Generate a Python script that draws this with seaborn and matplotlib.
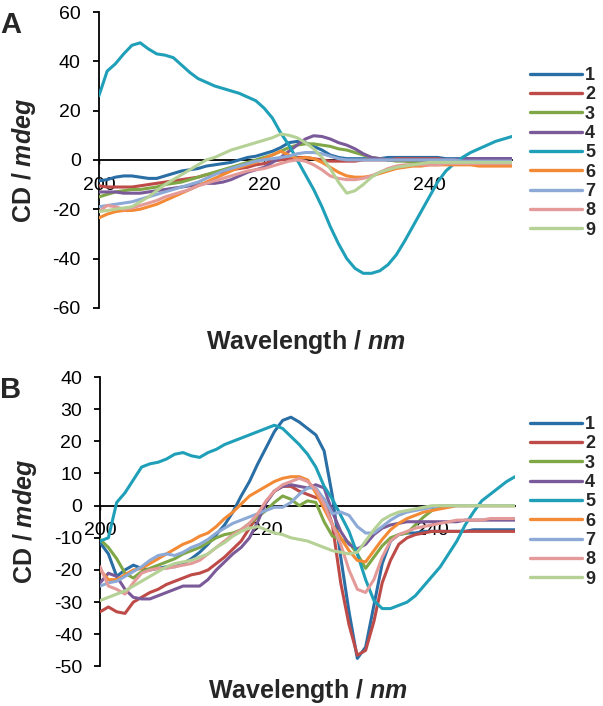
import matplotlib
matplotlib.use("Agg")
import matplotlib.pyplot as plt
import seaborn as sns
import pandas as pd

wavelength = list(range(200, 251))
samples = ["1", "2", "3", "4", "5", "6", "7", "8", "9"]
colors = ["#2A6EA6", "#BE4B48", "#7FA745", "#7A5A98", "#1FA0B8",
          "#F38A35", "#8DAAD6", "#E39A98", "#B5D195"]

# panel A
a1 = [-8.5, -8, -7, -6.5, -6.5, -7, -7.5, -7.5, -6.5, -5.5,
      -4.5, -4, -3.5, -2.5, -2, -1.5, -1, 0, 1, 1.5,
      2.5, 3.5, 5, 7, 7.5, 7, 5.5, 4, 2, 1,
      0.5, 0.5, 0.5, 0.5, 0.5, 1, 1, 1, 1, 1,
      1, 1, 0.5, 0.5, 0.5, 0.5, 0.5, 0.5, 0.5, 0.5, 0.5]
a2 = [-10.5, -11, -11, -11, -11, -10.5, -10, -9.5, -9, -8.5,
      -8, -7.5, -7, -6, -5.5, -5, -4, -3.5, -3, -2,
      -1.5, -0.5, 0, 0.5, 1, 1, 0.5, 0, -0.5, -0.5,
      -0.5, -0.5, 0, 0, 0, 0, 0.5, 0.5, 0.5, 0.5,
      0.5, 0.5, 0, 0, 0, -0.5, -0.5, -0.5, -0.5, -0.5, -0.5]
a3 = [-15, -14, -13, -12.5, -12, -12, -11.5, -11, -10, -9.5,
      -9, -8, -7, -6, -5, -4, -3, -2, -1, 0,
      1, 2, 3.5, 5, 6, 6.5, 6.5, 6, 5.5, 4.5,
      4, 3, 2, 1, 0.5, 0, -0.5, -0.5, -1, -1,
      -1, -1, -1, -1, -1, -1, -1.5, -1.5, -1.5, -1.5, -1.5]
a4 = [-13, -13, -13, -13.5, -13.5, -13.5, -13, -12.5, -12, -11.5,
      -11, -10.5, -10, -9.5, -9.5, -9, -8, -6.5, -5, -4,
      -3, -1, 1, 3.5, 6, 8.5, 9.8, 9.5, 8.5, 7,
      6, 4.5, 2.5, 1, 0.5, 0, 0, 0, 0, 0,
      0, 0, 0, 0, 0.5, 0.5, 0.5, 0.5, 0.5, 0.5, 0.5]
a5 = [26, 36, 39, 43, 46.5, 47.5, 45, 43, 42.5, 41.5,
      38.5, 35.5, 33, 31.5, 30, 29, 28, 27, 25.5, 24,
      21, 17, 11, 6, 0, -6, -12, -19, -27, -34,
      -40, -44, -46, -46, -45, -42.5, -38.5, -33, -27, -21,
      -15, -9, -4.5, -1.5, 1, 3, 4.5, 6, 7.5, 8.5, 9.5]
a6 = [-23.5, -22, -21, -20.5, -20.5, -20, -19, -18, -16.5, -15,
      -13.5, -12, -10.5, -9, -7.5, -6, -4.5, -3, -2, -1,
      0.5, 2, 3.5, 2, 0.5, 1, 0.5, -1, -3, -5,
      -6.5, -7, -7, -6.5, -5.5, -4.5, -3.5, -3, -2.5, -2.5,
      -2, -2, -2, -2, -2, -2, -2.5, -2.5, -2.5, -2.5, -2.5]
a7 = [-19, -18.5, -18, -17.5, -17, -16, -15, -14, -13, -12,
      -11, -10, -9, -7.5, -6, -4.5, -3.5, -2.5, -1.5, -0.5,
      0, 0.5, 1, 1.5, 2.5, 3, 3, 2.5, 1.5, 0.5,
      0, 0, 0, 0, 0, 0, 0, 0, 0, 0,
      0, 0, 0, 0, -0.5, -0.5, -0.5, -0.5, -0.5, -0.5, -0.5]
a8 = [-21, -18.5, -19, -20, -19.5, -18.5, -17.5, -16.5, -15, -14,
      -13, -12, -10.5, -9.5, -8.5, -7.5, -6.5, -5.5, -4.5, -4,
      -3.5, -2.5, -1.5, -0.5, 0, -0.5, -2, -4, -6.5, -7.5,
      -8, -8, -7.5, -6.5, -5, -3.5, -2.5, -2, -2, -2,
      -2, -2, -1.5, -1.5, -1.5, -1.5, -1.5, -1.5, -1.5, -1.5, -1.5]
a9 = [-21, -20.5, -20, -19.5, -19, -17, -15, -12.5, -10, -8,
      -6, -4, -2, 0, 1, 2.5, 4, 5, 6, 7,
      8, 9, 10.5, 10, 9, 7, 4.5, 1, -3.5, -9,
      -13.5, -12.5, -10, -7, -5, -4, -3, -2.5, -2, -1.5,
      -1, -1, -1, -1, -1, -1, -1, -1, -1, -1, -1]

# panel B
b1 = [-11.5, -15, -22, -20, -18.5, -19.5, -20, -19.5, -19, -19,
      -18, -16.5, -14.5, -12, -9, -6, -2, 3, 7.5, 13,
      18, 23, 26.5, 27.5, 26, 24, 22, 17, 3, -16,
      -33, -47.5, -44, -31, -18, -11, -9, -8.5, -8.5, -8,
      -8, -8, -8, -8, -8, -7.5, -7.5, -7.5, -7.5, -7.5, -7.5]
b2 = [-33, -31.5, -33, -33.5, -30, -28.5, -27, -26, -24.5, -23.5,
      -22.5, -21.5, -21, -20, -18, -16, -13.5, -11, -7, -3,
      1, 4.5, 6, 6, 4.5, 3.5, 2.5, 2, -6, -24,
      -37, -46.5, -45, -36, -24, -17, -12, -10, -9, -8.5,
      -8, -8, -8, -8, -8, -8, -8, -8, -8, -8, -8]
b3 = [-10.5, -13, -16.5, -21, -22.5, -20.5, -19.5, -18.5, -17.5, -16.5,
      -15, -14, -13, -11.5, -10, -9, -8.5, -7.5, -5.5, -3.5,
      -1.5, 1, 3, 2, 0, 1.5, 1, -5, -9.5, -10.5,
      -11.5, -15, -19.5, -16, -12.5, -10, -9, -8.5, -6, -3.5,
      -1.5, -0.5, 0, 0, 0, 0, 0, 0, 0, 0, 0]
b4 = [-24, -21, -22, -26, -28.5, -29, -29, -28, -27, -26,
      -25, -25, -25, -23, -20, -17.5, -15, -13, -10, -5,
      1, 4.5, 6, 6.5, 6, 5.5, 6.5, 5.5, -2, -8,
      -12, -13.5, -12, -9, -7, -6, -5.5, -5, -5, -5,
      -5, -5, -5, -5, -4.5, -4.5, -4.5, -4.5, -4.5, -4.5, -4.5]
b5 = [-11, -10, 1, 4, 8, 12, 13, 13.5, 14.5, 16,
      16.5, 15.5, 15, 16.5, 17.5, 19, 20, 21, 22, 23,
      24, 25, 24, 21.5, 19, 16, 12, 6, 2, -3,
      -8, -15, -23, -29.5, -32, -32, -31, -30, -28, -25,
      -22, -19, -15, -11, -6, -2, 1.5, 3.5, 5.5, 7.5, 9]
b6 = [-20, -23, -23, -21.5, -20, -19.5, -18, -16.5, -15, -13.5,
      -12, -11, -9.5, -8.5, -6.5, -4, -2, 0.5, 3, 4.5,
      6, 7.5, 8.5, 9, 9, 8, 4, -1, -6, -10,
      -14, -17, -17.5, -14, -10.5, -7.5, -5.5, -4, -3, -2,
      -1.5, -1, -0.5, 0, 0, 0, 0, 0, 0, 0, 0]
b7 = [-25, -24, -23.5, -22, -20.5, -19, -17, -15.5, -15, -15.5,
      -14.5, -13, -12, -10.5, -8.5, -7, -5.5, -4.5, -3.5, -2.5,
      -1.5, -0.5, -0.5, 1, 3.5, 5.5, 5.5, 2, -2.5, -2,
      -3, -6.5, -8.5, -8.5, -6.5, -4.5, -3, -2, -1.5, -1,
      -0.5, 0, 0, 0, 0, 0, 0, 0, 0, 0, 0]
b8 = [-19, -25, -26, -27.5, -24, -21, -20, -19.5, -19.5, -19,
      -18.5, -18, -17, -15, -13, -11, -9, -7.5, -5.5, -2.5,
      1.5, 4.5, 6.5, 7.5, 8.5, 7.5, 5, 0.5, -6, -12,
      -20, -26, -27, -23, -16, -11, -9, -8, -7, -6.5,
      -6, -5.5, -5, -4.5, -4.5, -4.5, -4.5, -4, -4, -4, -4]
b9 = [-29.5, -28.5, -27.5, -26.5, -25, -23.5, -22, -20.5, -19, -18,
      -17.5, -17, -16, -15, -13, -11.5, -9.5, -8, -7, -6.5,
      -7.5, -8.5, -9, -10, -10.5, -11, -12, -13, -14, -14.5,
      -15, -14.5, -11, -7.5, -4.5, -3, -2, -1.5, -1, -0.5,
      0, 0, 0, 0, 0, 0, 0, 0, 0, 0, 0]

sns.set_style("white")
plt.rcParams["font.family"] = ["Liberation Sans", "DejaVu Sans"]
plt.rcParams["axes.unicode_minus"] = False
plt.rcParams["mathtext.fontset"] = "custom"
plt.rcParams["mathtext.it"] = "Liberation Sans:bold:italic"
plt.rcParams["mathtext.rm"] = "Liberation Sans:bold"


def long_form(series):
    rows = []
    for name, vals in zip(samples, series):
        for w, v in zip(wavelength, vals):
            rows.append({"wavelength": w, "cd": v, "sample": name})
    return pd.DataFrame(rows)


fig = plt.figure(figsize=(6.03, 7.06), dpi=100)
axA = fig.add_axes([0.164, 0.564, 0.685, 0.419])
axB = fig.add_axes([0.166, 0.056, 0.688, 0.410])

panels = [
    (axA, [a1, a2, a3, a4, a5, a6, a7, a8, a9], (-60, 60), range(-60, 61, 20), "A", 0.983, -0.068, 58),
    (axB, [b1, b2, b3, b4, b5, b6, b7, b8, b9], (-50, 40), range(-50, 41, 10), "B", 0.466, -0.035, 407),
]

for ax, series, ylim, yticks, letter, top, xlab_y, leg_top in panels:
    df = long_form(series)
    sns.lineplot(data=df, x="wavelength", y="cd", hue="sample", hue_order=samples,
                 palette=colors, linewidth=2.2, ax=ax)
    ax.set_xlim(200, 250)
    ax.set_ylim(*ylim)
    ax.set_yticks(list(yticks))
    ax.set_xticks([200, 220, 240])
    for s in ["top", "right"]:
        ax.spines[s].set_visible(False)
    ax.spines["bottom"].set_position(("data", 0))
    for s in ["left", "bottom"]:
        ax.spines[s].set_color("black")
        ax.spines[s].set_linewidth(1.3)
        ax.spines[s].set_zorder(1)
    ax.tick_params(axis="y", direction="out", length=4, width=1.3, pad=9,
                   labelsize=14, colors="black", left=True)
    ax.tick_params(axis="x", direction="out", length=3, width=1, pad=9,
                   labelsize=14, colors="black", bottom=True)
    ax.set_ylabel("CD / $mdeg$", fontsize=18, fontweight="bold")
    ax.set_xlabel("Wavelength / $nm$", fontsize=18, fontweight="bold")
    ax.yaxis.set_label_coords(-0.148, 0.5)
    ax.xaxis.set_label_coords(0.5, xlab_y)
    ax.xaxis.label.set_verticalalignment("top")

    handles, labels = ax.get_legend_handles_labels()
    for h in handles:
        h.set_linewidth(2.4)
    ax.legend(handles, labels, loc="upper left",
              bbox_to_anchor=(521 / 603, 1 - leg_top / 706), bbox_transform=fig.transFigure,
              frameon=False, handlelength=2.9, handletextpad=0.15, labelspacing=0.13,
              borderpad=0, prop={"weight": "bold", "size": 13})

    fig.text(0.0, top + 0.002, letter, fontsize=21, fontweight="bold", va="top", ha="left")

fig.savefig("out.png", dpi=100)
